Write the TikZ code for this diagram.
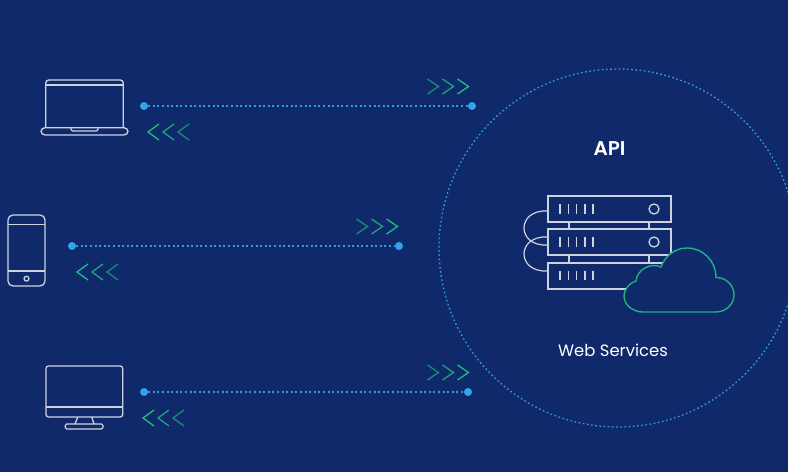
\documentclass[tikz,border=0pt]{standalone}
\usepackage{fontspec}
\setmainfont{Poppins}
\newfontfamily\apifont{Poppins SemiBold}
\definecolor{bgc}{HTML}{10296B}
\definecolor{linec}{HTML}{CDD2E0}
\definecolor{dotc}{HTML}{2FA4EC}
\definecolor{dotl}{HTML}{2C9CE0}
\definecolor{grA}{HTML}{1FBE7C}
\definecolor{grB}{HTML}{1BA678}
\definecolor{grC}{HTML}{178E72}
\definecolor{cloudc}{HTML}{1EB282}
\tikzset{
  icon/.style={draw=linec,line width=1.3bp,line join=round},
  chev/.style={line width=1.3bp,line join=miter},
  endpoint/.style={circle,fill=dotc,minimum size=8bp,inner sep=0pt},
  link/.style={draw=dotl,line width=1.4bp,dash pattern=on 1.9bp off 2.7bp},
  rack/.style={draw=linec,line width=1.3bp,fill=bgc},
  label/.style={text=white,inner sep=0pt},
}
\newcommand{\chevR}[2]{% left x, top y
  \draw[chev,grC] (#1,#2)--++(11,7.5)--++(-11,7.5);
  \draw[chev,grB] (#1+15,#2)--++(11,7.5)--++(-11,7.5);
  \draw[chev,grA] (#1+30,#2)--++(11,7.5)--++(-11,7.5);}
\newcommand{\chevL}[2]{% tip x, top y
  \draw[chev,grA] (#1+11,#2)--++(-11,8)--++(11,8);
  \draw[chev,grB] (#1+26,#2)--++(-11,8)--++(11,8);
  \draw[chev,grC] (#1+41,#2)--++(-11,8)--++(11,8);}
\newcommand{\ticks}[1]{\foreach \tx in {560,568.3,576.7,585,593}{\draw[draw=linec,line width=1.2bp] (\tx,#1-4.7)--(\tx,#1+4.7);}}
\begin{document}
\begin{tikzpicture}[x=1bp,y=-1bp]
\clip (0,0) rectangle (788,472);
\fill[bgc] (0,0) rectangle (788,472);

% big circle
\draw[dotl,line width=1.3bp,dash pattern=on 1.7bp off 2.5bp] (618,248) circle[radius=179];

% laptop
\draw[icon,rounded corners=3bp] (45.7,127.7)--(45.7,80)--(123.3,80)--(123.3,127.7);
\draw[icon] (45.7,85)--(123.3,85);
\draw[icon,rounded corners=4bp] (41,127.7)--(128,127.7)--(128,135)--(41,135)--cycle;
\draw[icon,rounded corners=1.5bp] (71,127.7)--(71,131)--(98,131)--(98,127.7);

% phone
\draw[icon,rounded corners=5bp] (8,215) rectangle (45,286);
\draw[icon] (8,224.5)--(45,224.5);
\draw[icon] (8,271)--(45,271);
\draw[icon] (26.5,278.7) circle[radius=2.4];

% monitor
\draw[icon,rounded corners=2.5bp] (46,366) rectangle (122.7,417);
\draw[icon] (46,407)--(122.7,407);
\draw[icon] (77.7,417)--(75,424);
\draw[icon] (91.7,417)--(94,424);
\draw[icon,rounded corners=1.5bp] (65.3,424) rectangle (103,429);

% connectors with end points
\node[endpoint] (a1) at (144,106) {};
\node[endpoint] (a2) at (472,106) {};
\node[endpoint] (b1) at (72,246) {};
\node[endpoint] (b2) at (399,246) {};
\node[endpoint] (c1) at (144,392) {};
\node[endpoint] (c2) at (468,392) {};
\draw[link] (a1)--(a2);
\draw[link] (b1)--(b2);
\draw[link] (c1)--(c2);

% chevrons
\chevR{427.5}{79}
\chevR{356.5}{219}
\chevR{427.5}{365}
\chevL{148}{124}
\chevL{77}{264}
\chevL{143}{410}

% server
\draw[draw=linec,line width=1.2bp] (548,211) .. controls (516,209) and (516,247) .. (548,245);
\draw[draw=linec,line width=1.2bp] (548,237) .. controls (516,235) and (516,273) .. (548,271);
\foreach \cx in {569,649}{
  \draw[draw=linec,line width=1.2bp] (\cx,222)--(\cx,229);
  \draw[draw=linec,line width=1.2bp] (\cx,255)--(\cx,263);
}
\draw[rack] (548,196) rectangle (671,222);
\draw[rack] (548,229) rectangle (671,255);
\draw[rack] (548,263) rectangle (671,289);
\ticks{209}
\ticks{242}
\ticks{275.5}
\draw[icon] (654,209) circle[radius=5];
\draw[icon] (654,242) circle[radius=5];

% cloud
\draw[cloudc,line width=1.4bp,fill=bgc]
 (643,312) -- (716,312)
 .. controls (726,312) and (734,304) .. (734,295)
 .. controls (734,285) and (726,277.5) .. (716,277.5)
 .. controls (716,261) and (703,248) .. (687,248)
 .. controls (675,248) and (665,256) .. (661,267)
 .. controls (650,262) and (637,270) .. (636,281)
 .. controls (629,283) and (624,290) .. (624,296)
 .. controls (624,305) and (633,312) .. (643,312) -- cycle;

% text
\node[label,font=\fontsize{20}{24}\selectfont\apifont] (api) at (609.5,149) {API};
\node[label,font=\fontsize{16.5}{20}\selectfont] (ws) at (613,350) {Web Services};
\end{tikzpicture}
\end{document}
